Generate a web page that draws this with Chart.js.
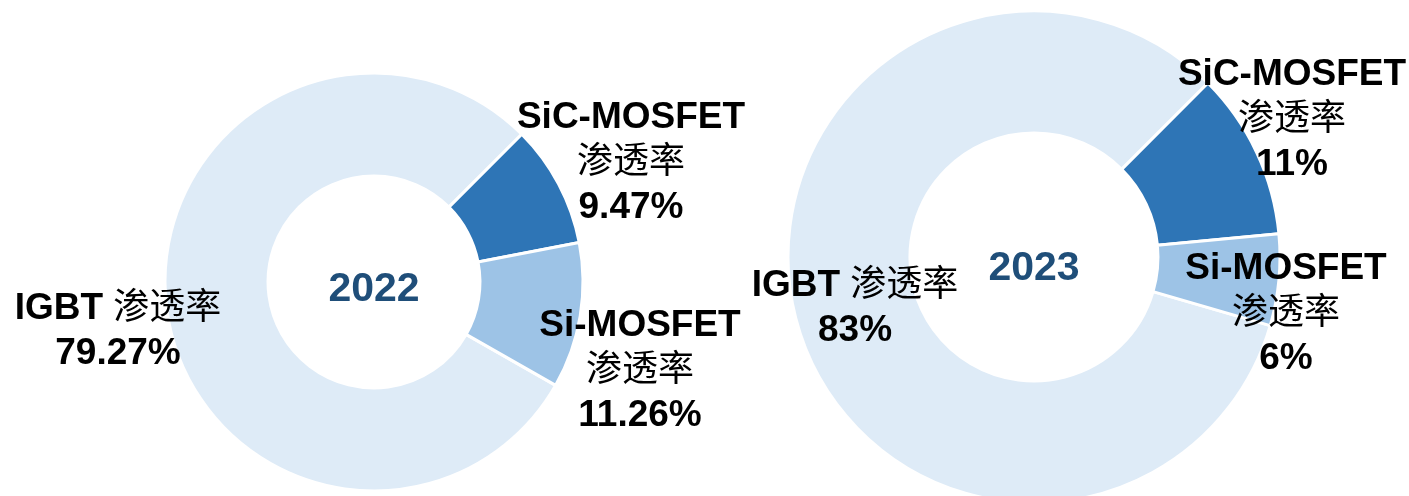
<!DOCTYPE html>
<html lang="zh">
<head>
<meta charset="UTF-8">
<title>渗透率 2022 / 2023</title>
<script src="https://cdn.jsdelivr.net/npm/chart.js"></script>
<style>
  html, body { margin: 0; padding: 0; background: #fff; overflow: hidden; }
  .wrap { display: flex; width: 1409px; height: 496px; }
  canvas { display: block; }
</style>
</head>
<body>
<div class="wrap">
  <canvas id="chart2022" width="748" height="496"></canvas>
  <canvas id="chart2023" width="661" height="496"></canvas>
</div>
<script>
const categories = ['IGBT', 'SiC-MOSFET', 'Si-MOSFET'];
const values2022 = [79.27, 9.47, 11.26];
const values2023 = [83, 11, 6];
const valueLabels2022 = ['79.27%', '9.47%', '11.26%'];
const valueLabels2023 = ['83%', '11%', '6%'];
const suffix = '渗透率';
const colors = ['#DEEBF7', '#2E75B6', '#9DC3E6'];

const LATIN_FONT = 'bold 37px "Liberation Sans", Arial, sans-serif';
const CJK_FONT = '36px "Noto Sans CJK SC", sans-serif';
const LINE_H = 45;

// draw a line mixing bold latin and regular CJK, centred on x
function drawMixed(ctx, text, x, y) {
    const runs = [];
    for (const ch of text) {
        const cjk = /[\u3400-\u9fff]/.test(ch);
        if (runs.length && runs[runs.length - 1].cjk === cjk) runs[runs.length - 1].t += ch;
        else runs.push({ t: ch, cjk: cjk });
    }
    let w = 0;
    runs.forEach(r => {
        ctx.font = r.cjk ? CJK_FONT : LATIN_FONT;
        r.w = ctx.measureText(r.t).width;
        w += r.w;
    });
    let px = x - w / 2;
    runs.forEach(r => {
        ctx.font = r.cjk ? CJK_FONT : LATIN_FONT;
        ctx.fillText(r.t, px, y);
        px += r.w;
    });
}

const sliceLabels = {
    id: 'sliceLabels',
    afterDraw(chart, args, opts) {
        const ctx = chart.ctx;
        const arc = chart.getDatasetMeta(0).data[0];
        const cx = arc.x, cy = arc.y;
        ctx.save();
        ctx.textBaseline = 'alphabetic';

        ctx.font = 'bold 41px "Liberation Sans", Arial, sans-serif';
        ctx.fillStyle = '#1F4E79';
        ctx.textAlign = 'center';
        ctx.fillText(opts.year, cx, cy + opts.yearDy + 15);

        ctx.fillStyle = '#000';
        ctx.textAlign = 'left';
        chart.data.labels.forEach((cat, i) => {
            const lines = i === 0
                ? [cat + ' ' + suffix, opts.valueLabels[i]]
                : [cat, suffix, opts.valueLabels[i]];
            const [dx, dy] = opts.offsets[i];
            const top = cy + dy - (lines.length - 1) * LINE_H / 2;
            lines.forEach((ln, k) => {
                drawMixed(ctx, ln, cx + dx, top + k * LINE_H + 13);
            });
        });
        ctx.restore();
    }
};

function makeChart(id, values, valueLabels, year, layout) {
    const total = values.reduce((a, b) => a + b, 0);
    return new Chart(document.getElementById(id), {
        type: 'doughnut',
        data: {
            labels: categories,
            datasets: [{
                data: values,
                backgroundColor: colors,
                borderColor: '#ffffff',
                borderWidth: 3
            }]
        },
        options: {
            responsive: false,
            animation: false,
            rotation: 45 - values[0] / total * 360,
            radius: layout.radius,
            cutout: layout.cutout,
            layout: { padding: layout.padding },
            plugins: {
                legend: { display: false },
                tooltip: { enabled: false },
                sliceLabels: {
                    year: year,
                    yearDy: layout.yearDy,
                    valueLabels: valueLabels,
                    offsets: layout.offsets
                }
            }
        },
        plugins: [sliceLabels]
    });
}

makeChart('chart2022', values2022, valueLabels2022, '2022', {
    radius: 209,
    cutout: '50.7%',
    padding: { top: 68, left: 0, right: 0, bottom: 0 },
    yearDy: 4,
    offsets: [[-256, 46], [257, -122], [266, 86]]
});

makeChart('chart2023', values2023, valueLabels2023, '2023', {
    radius: 246,
    cutout: '50.4%',
    padding: { top: 18, left: 0, right: 89, bottom: 0 },
    yearDy: 8,
    offsets: [[-179, 48], [258, -140], [252, 54]]
});
</script>
</body>
</html>
